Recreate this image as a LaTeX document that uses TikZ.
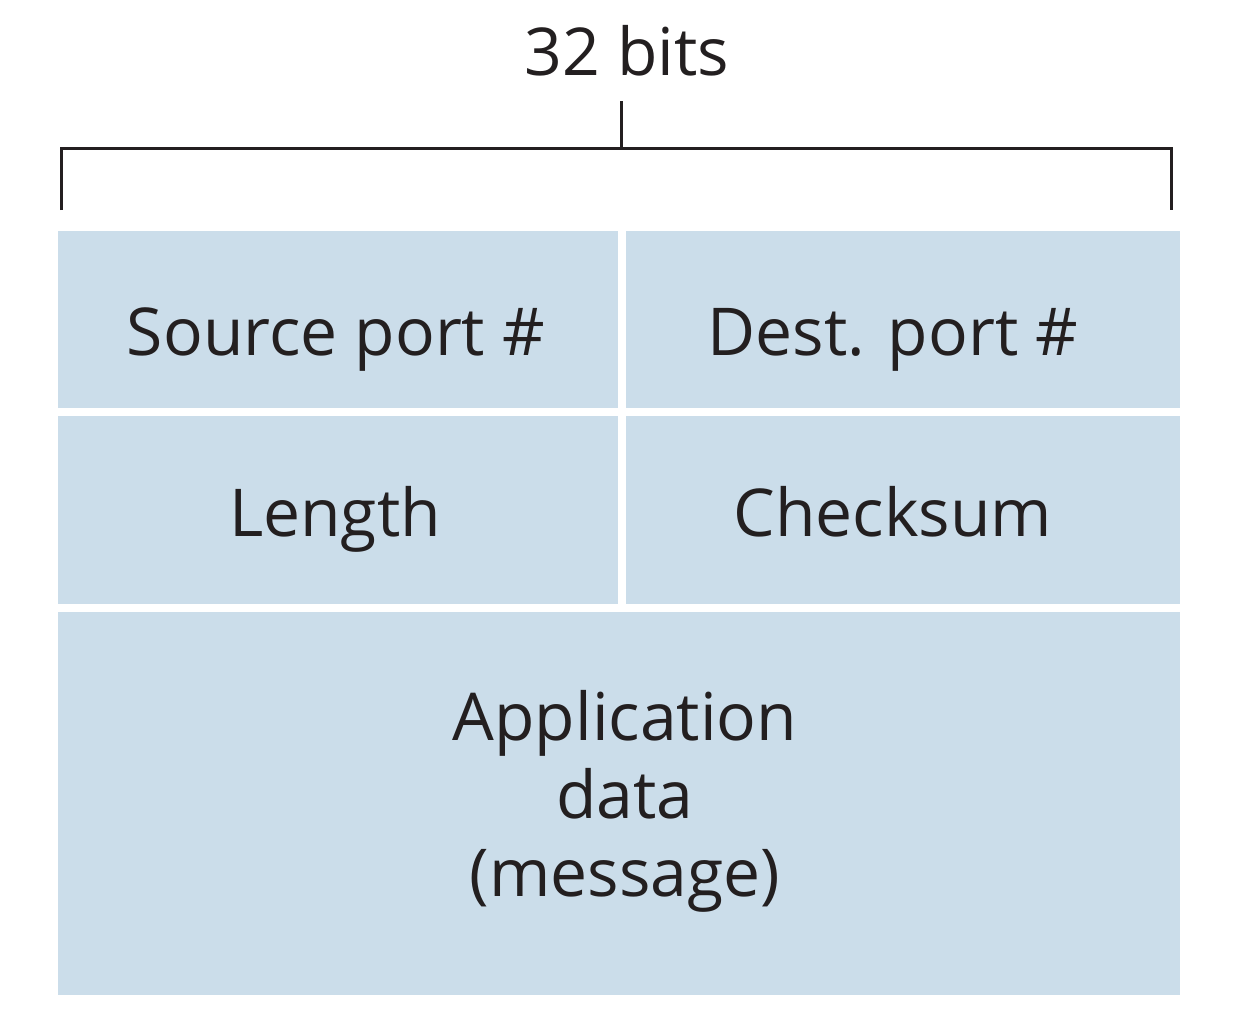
\documentclass[tikz,border=0pt]{standalone}
\usepackage{fontspec}
\setmainfont{Open Sans}
\definecolor{fieldblue}{HTML}{CBDDEA}
\definecolor{ink}{HTML}{231F20}
\begin{document}
\begin{tikzpicture}[x=1pt,y=-1pt,
  field/.style={fill=fieldblue,draw=none},
  label/.style={font=\fontsize{66}{78}\selectfont,text=ink,anchor=base,inner sep=0pt},
  brace/.style={draw=ink,line width=3pt}]
  \useasboundingbox (0,0) rectangle (1240,1009);
  % header fields
  \fill[field] (57.5,230.5) rectangle (617.5,408);
  \fill[field] (625.5,230.5) rectangle (1180,408);
  \fill[field] (57.5,416) rectangle (617.5,603.5);
  \fill[field] (625.5,416) rectangle (1180,603.5);
  \fill[field] (57.5,612) rectangle (1180,995);
  % field labels
  \node[label] (src) at (336,355) {Source port \#};
  \node[label] (dst) at (893,355) {Dest. port \#};
  \node[label] (len) at (335,536) {Length};
  \node[label] (chk) at (893,536) {Checksum};
  \node[label] (app) at (625,740) {Application};
  \node[label] (dat) at (625,818) {data};
  \node[label] (msg) at (625,896) {(message)};
  % width bracket
  \node[label] (bits) at (627,75) {32 bits};
  \coordinate (bl) at (61.5,210);
  \coordinate (br) at (1171.5,210);
  \coordinate (mid) at (621.5,148.5);
  \coordinate (tick) at (621.5,101);
  \draw[brace] (bl) |- (br |- mid) -- (br);
  \draw[brace] (mid) -- (tick);
\end{tikzpicture}
\end{document}
